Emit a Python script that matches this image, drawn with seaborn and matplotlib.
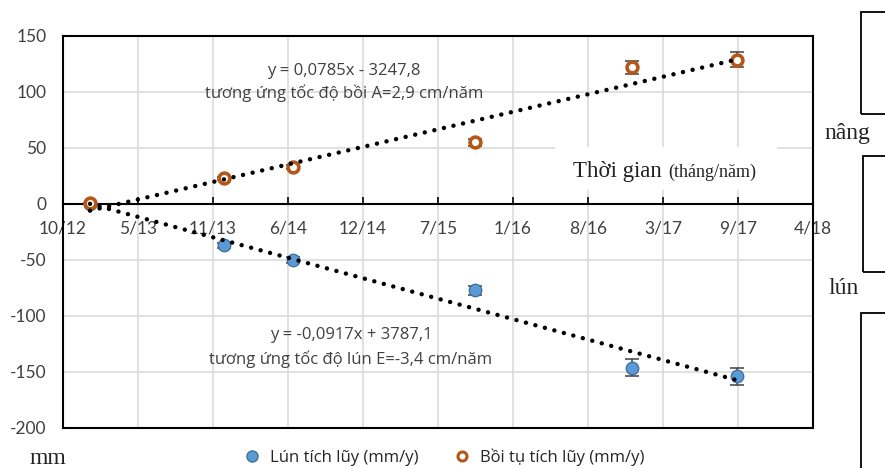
import numpy as np
import pandas as pd
import matplotlib
matplotlib.use("Agg")
import matplotlib.pyplot as plt
import seaborn as sns
from matplotlib.lines import Line2D
from matplotlib.patches import Rectangle

# Ngày đo (số ngày kiểu Excel) và giá trị tích lũy (mm)
ngay_do = [41272, 41629, 41813, 42299, 42717, 42997]
lun_tich_luy = [0, -37, -50, -77, -146, -154]
boi_tu_tich_luy = [1, 23, 33, 55, 122, 129]
sai_so_lun = [0, 1.9, 2.5, 3.9, 7.3, 7.7]
sai_so_boi_tu = [0, 1.2, 1.7, 2.8, 6.1, 6.5]

nhan_truc_x = ["10/12", "5/13", "11/13", "6/14", "12/14", "7/15",
               "1/16", "8/16", "3/17", "9/17", "4/18"]
nhan_truc_y = ["-200", "-150", "-100", "-50", "0", "50", "100", "150"]

df = pd.DataFrame({"ngay": ngay_do, "lun": lun_tich_luy, "boi": boi_tu_tich_luy})

sns.set_theme(style="whitegrid", rc={"grid.color": "#D9D9D9", "grid.linewidth": 1.1})
plt.rcParams["font.family"] = ["Lato", "Open Sans", "DejaVu Sans"]

W, H = 885, 468
fig = plt.figure(figsize=(W / 100, H / 100), dpi=100)
ax = fig.add_axes([63 / W, 1 - 428 / H, 750 / W, 392 / H])


def px(x, y):
    return x / W, 1 - y / H


mau_lun = "#5B9BD5"
vien_lun = "#41719C"
mau_boi = "#B4581A"

# thanh sai số
ax.errorbar(df["ngay"], df["lun"], yerr=sai_so_lun, fmt="none", ecolor="#404040",
            elinewidth=1.1, capsize=5, capthick=1.1, zorder=3)
ax.errorbar(df["ngay"], df["boi"], yerr=sai_so_boi_tu, fmt="none", ecolor="#404040",
            elinewidth=1.1, capsize=5, capthick=1.1, zorder=3)

# điểm đo
sns.scatterplot(data=df, x="ngay", y="lun", ax=ax, s=80, color=mau_lun,
                edgecolor=vien_lun, linewidth=1.0, zorder=4)
sns.scatterplot(data=df, x="ngay", y="boi", ax=ax, s=60, color="white",
                edgecolor=mau_boi, linewidth=2.6, zorder=4)

# đường xu thế
kieu_cham = dict(color="black", linewidth=3.2, linestyle=(0, (0.01, 2.2)),
                 dash_capstyle="round", zorder=5)
sns.regplot(data=df, x="ngay", y="boi", ax=ax, scatter=False, ci=None,
            truncate=True, line_kws=kieu_cham)
sns.regplot(data=df, x="ngay", y="lun", ax=ax, scatter=False, ci=None,
            truncate=True, line_kws=kieu_cham)

ax.set_xlim(41200, 43200)
ax.set_ylim(-200, 150)
ax.set_xticks(np.arange(41200, 43201, 200))
ax.set_xticklabels(nhan_truc_x)
ax.set_yticks(np.arange(-200, 151, 50))
ax.set_yticklabels(nhan_truc_y)
ax.set_xlabel("")
ax.set_ylabel("")
ax.grid(True, color="#D9D9D9", linewidth=1.1)
ax.set_axisbelow(True)

# trục x nằm ở y = 0
ax.spines["bottom"].set_position(("data", 0))
for s in ["bottom", "top", "left", "right"]:
    ax.spines[s].set_color("black")
    ax.spines[s].set_linewidth(1.5)
ax.plot([0, 1], [0, 0], transform=ax.transAxes, color="black", lw=1.5,
        clip_on=False, zorder=6)
ax.tick_params(axis="x", direction="in", length=5, width=1.2, color="black",
               pad=12, labelsize=12.5, labelcolor="#404040", bottom=True)
ax.tick_params(axis="y", length=0, pad=12, labelsize=12.5, labelcolor="#404040")

# phương trình xu thế
kieu_chu = dict(transform=fig.transFigure, ha="center", va="center",
                fontsize=12, color="#404040", family="Open Sans")
ax.text(*px(344, 71), "y = 0,0785x - 3247,8", **kieu_chu)
ax.text(*px(344, 93), "tương ứng tốc độ bồi A=2,9 cm/năm", **kieu_chu)
ax.text(*px(351, 335), "y = -0,0917x + 3787,1", **kieu_chu)
ax.text(*px(351, 359), "tương ứng tốc độ lún E=-3,4 cm/năm", **kieu_chu)

# hộp chú thích thời gian
fig.patches.append(Rectangle(px(555, 190), 222 / W, 43 / H, transform=fig.transFigure,
                             facecolor="white", edgecolor="none", zorder=1))
fig.text(*px(573, 177), "Thời gian", fontsize=16.5, family="Liberation Serif",
         color="#222222", va="baseline", ha="left", zorder=3)
fig.text(*px(668, 177), "(tháng/năm)", fontsize=13, family="Liberation Serif",
         color="#222222", va="baseline", ha="left", zorder=3)

# chữ bên ngoài
fig.text(*px(48, 459), "mm", fontsize=17, family="Liberation Serif",
         ha="center", va="center", color="#222222")
fig.text(*px(847, 133), "nâng", fontsize=17, family="Liberation Serif",
         ha="center", va="center", color="#222222")
fig.text(*px(844, 289), "lún", fontsize=17, family="Liberation Serif",
         ha="center", va="center", color="#222222")

for (x0, y0, y1) in [(861, 12, 114), (863, 156, 272), (861, 313, 480)]:
    fig.patches.append(Rectangle(px(x0, y1), 60 / W, (y1 - y0) / H,
                                 transform=fig.transFigure, facecolor="none",
                                 edgecolor="black", linewidth=1.3, zorder=1))

# chú giải
handles = [
    Line2D([], [], marker="o", linestyle="none", markersize=8,
           markerfacecolor=mau_lun, markeredgecolor=vien_lun),
    Line2D([], [], marker="o", linestyle="none", markersize=6.5,
           markerfacecolor="white", markeredgecolor=mau_boi, markeredgewidth=2.2),
]
fig.legend(handles, ["Lún tích lũy (mm/y)", "Bồi tụ tích lũy (mm/y)"],
           loc="center", bbox_to_anchor=px(440, 457), ncol=2, frameon=False,
           handletextpad=0.1, columnspacing=1.6,
           prop={"family": "Open Sans", "size": 12})

fig.savefig("out.png", dpi=100)
